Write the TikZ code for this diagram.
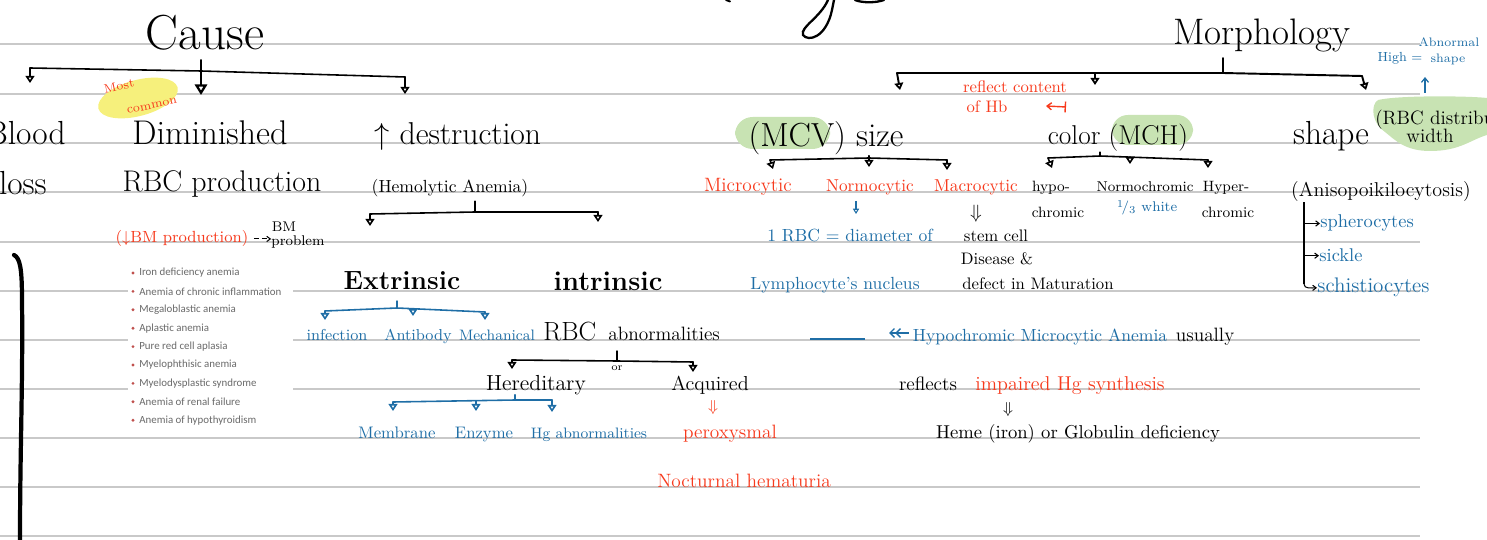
\documentclass[tikz,border=0pt]{standalone}
\usepackage{fontspec}
\usepackage{amsmath}
\newfontfamily\listfont{Carlito}
\usetikzlibrary{arrows.meta,positioning,calc}

\definecolor{notered}{HTML}{F73A1D}
\definecolor{noteblue}{HTML}{1F6EA6}
\definecolor{rulegray}{HTML}{C9C9C9}
\definecolor{listgray}{HTML}{6A6A6A}
\definecolor{bulletred}{HTML}{C0504D}
\definecolor{hlyellow}{HTML}{F6F07C}
\definecolor{hlgreen}{HTML}{C8E3B3}

\newcommand\fsz[1]{\fontsize{#1}{#1}\selectfont}

\tikzset{
  ruled/.style={draw=rulegray, line width=0.7pt},
  txt/.style={inner sep=0pt, anchor=base},
  bk/.style={txt, text=black},
  rd/.style={txt, text=notered},
  bl/.style={txt, text=noteblue},
  brace/.style={line width=0.9pt, line cap=round, line join=round},
  dn/.style={brace, -{Triangle[open, length=4pt, width=5pt]}},
  dnbig/.style={line width=1.3pt, -{Triangle[open, length=6pt, width=7pt]}},
  dnsmall/.style={line width=0.6pt, -{Triangle[open, length=3pt, width=3.5pt]}},
  pointer/.style={line width=0.6pt, -{Straight Barb[length=2pt, width=3pt]}},
  listitem/.style={inner sep=0pt, anchor=west, text=listgray, font=\listfont\fsz{6.2}},
}

\begin{document}
\begin{tikzpicture}[x=0.02cm, y=-0.02cm]
\useasboundingbox (0,0) rectangle (1487,540);
\clip (0,0) rectangle (1487,540);

% ruled paper
\foreach \ry in {44,94,143,192,242,291,340,389,438,487,536}
  \draw[ruled] (0,\ry) -- (1420,\ry);

% highlighter
\fill[hlyellow, rotate around={15:(138,98)}] (138,98) ellipse (41 and 18);
\fill[hlgreen, rounded corners=10pt] (735,117) rectangle (830,149);
\fill[hlgreen, rounded corners=9pt] (1112,115) rectangle (1193,145);
\fill[hlgreen] (1378,100) .. controls (1400,95) and (1470,96) .. (1487,98) -- (1487,135)
  .. controls (1470,140) and (1460,151) .. (1430,151) .. controls (1405,151) and (1395,140) .. (1385,132)
  .. controls (1372,124) and (1370,105) .. (1378,100) -- cycle;

% cut off title at the top
\draw[line width=1.3pt, line cap=round] (828,0) .. controls (820,18) and (800,27) .. (803,35)
  .. controls (808,42) and (826,38) .. (832,10) -- (834,0);
\draw[line width=1.3pt, line cap=round] (855,0) .. controls (862,3) and (876,3) .. (884,0);
\draw[line width=1.1pt, line cap=round] (726,0) -- (730,1.5);

%%% Cause
\node[bk, font=\fsz{28}] (cause) at (205,50) {Cause};
\node[bk, font=\fsz{19}, anchor=base east] (blood) at (66,145) {Blood};
\node[bk, font=\fsz{19}, anchor=base east] (loss) at (47,195) {loss};
\node[rd, font=\fsz{7}, anchor=center, rotate=12] (most) at (119,86) {Most};
\node[rd, font=\fsz{7}, anchor=center, rotate=12] (common) at (152,106) {common};
\node[bk, font=\fsz{19.5}] (dimin) at (210,145) {Diminished};
\node[bk, font=\fsz{17}] (rbcprod) at (222,192) {RBC production};
\node[bk, font=\fsz{18}] (destr) at (458,145) {$\uparrow$ destruction};
\node[bk, font=\fsz{10}] (hemol) at (450,193) {(Hemolytic Anemia)};

\coordinate (cl) at (30,68);
\coordinate (cm) at (201,71);
\coordinate (cr) at (405,77);
\draw[brace] (cl) -- (cm) -- (cr);
\draw[brace] ([yshift=-5pt]cause.south -| cm) -- (cm);
\draw[dn] (cl) -- ++(0,15);
\draw[dnbig] (cm) -- ++(0,24);
\draw[dn] (cr) -- ++(0,17);

\node[rd, font=\fsz{9.2}] (bmprod) at (182,243) {($\downarrow$BM production)};
\node[bk, font=\fsz{8}] (bmbm) at (284,232) {BM};
\node[bk, font=\fsz{8}] (bmprob) at (298,246) {problem};
\draw[pointer, dashed, dash pattern=on 3pt off 1.5pt] (bmprod.east) ++(3pt,0) -- (bmprob.west |- bmprod.east);

% list of the diminished production group
\fill[white] (128,262) rectangle (293,428);
\foreach \litem [count=\i from 0] in {Iron deficiency anemia, Anemia of chronic inflammation,
    Megaloblastic anemia, Aplastic anemia, Pure red cell aplasia, Myelophthisic anemia,
    Myelodysplastic syndrome, Anemia of renal failure, Anemia of hypothyroidism}{
  \fill[bulletred] (133,{273+18.4*\i}) circle (0.9pt);
  \node[listitem] (li\i) at (139,{273+18.4*\i}) {\litem};
}
\draw[line width=2.4pt, line cap=round] (14,255) .. controls (20,258) and (22,268) .. (22,300)
  .. controls (23,380) and (20,450) .. (20,540);

% hemolytic
\coordinate (hl) at (370,214);
\coordinate (hm) at (475,212);
\coordinate (hr) at (598,212);
\draw[brace] (hl) -- (hm) -- (hr);
\draw[brace] ([yshift=-2pt]hemol.south -| hm) -- (hm);
\draw[dn] (hl) -- ++(0,12);
\draw[dn] (hr) -- ++(0,10);

\node[bk, font=\fsz{15}\bfseries] (extr) at (402,290) {Extrinsic};
\node[bk, font=\fsz{15.5}\bfseries] (intr) at (608,291) {intrinsic};

\coordinate (el) at (325,311);
\coordinate (em) at (397,308);
\coordinate (emm) at (413,309);
\coordinate (er) at (485,312);
\draw[brace, noteblue] (el) -- (em) -- (er);
\draw[brace, noteblue] ([yshift=-6pt]extr.south -| em) -- (em);
\draw[dn, noteblue] (el) -- ++(0,9);
\draw[dn, noteblue] (emm) -- ++(0,7);
\draw[dn, noteblue] (er) -- ++(0,8);
\node[bl, font=\fsz{9}] (infect) at (337,340) {infection};
\node[bl, font=\fsz{9}] (antib) at (418,340) {Antibody};
\node[bl, font=\fsz{8.6}] (mech) at (497,340) {Mechanical};

\node[bk, font=\fsz{15}, anchor=base west] (rbc) at (543,340) {RBC};
\node[bk, font=\fsz{11}, anchor=base west] (abnorm) at (608,340) {abnormalities};
\coordinate (ol) at (512,360);
\coordinate (om) at (617,361);
\coordinate (orr) at (693,362);
\draw[brace] (ol) -- (om) -- (orr);
\draw[brace] ([yshift=-6pt]abnorm.south -| om) -- (om);
\draw[dn] (ol) -- ++(0,9);
\draw[dn] (orr) -- ++(0,10);
\node[bk, font=\fsz{6}, anchor=center] (ortxt) at (617,368) {or};
\node[bk, font=\fsz{12.4}] (hered) at (536,390) {Hereditary};
\node[bk, font=\fsz{11.5}] (acq) at (710,390) {Acquired};

\coordinate (hdl) at (393,402);
\coordinate (hdm) at (515,400);
\coordinate (hdmm) at (476,401);
\coordinate (hdr) at (552,400);
\draw[brace, noteblue] (hdl) -- (hdm) -- (hdr);
\draw[brace, noteblue] (hered.south -| hdm) -- (hdm);
\draw[dn, noteblue] (hdl) -- ++(0,9);
\draw[dn, noteblue] (hdmm) -- ++(0,10);
\draw[dn, noteblue] (hdr) -- ++(0,12);
\node[bl, font=\fsz{9.5}] (membr) at (397,438) {Membrane};
\node[bl, font=\fsz{9.5}] (enzy) at (484,438) {Enzyme};
\node[bl, font=\fsz{8.6}] (hgab) at (589,438) {Hg abnormalities};

\node[rd, font=\fsz{9}, anchor=center] (acqarr) at (713,408) {$\Downarrow$};
\node[rd, font=\fsz{11}] (parox) at (730,438) {peroxysmal};
\node[rd, font=\fsz{11}] (noct) at (744,487) {Nocturnal hematuria};

%%% Morphology
\node[bk, font=\fsz{21}] (morph) at (1262,45) {Morphology};
\coordinate (ml) at (897,73);
\coordinate (mm) at (1223,73);
\coordinate (mmm) at (1095,73);
\coordinate (mr) at (1362,76);
\draw[brace, line width=1.1pt] (ml) -- (mm) -- (mr);
\draw[brace, line width=1.1pt] ([yshift=-3pt]morph.south -| mm) -- (mm);
\draw[dn, line width=1.1pt] (ml) -- ++(3,17);
\draw[dn, line width=1.1pt] (mmm) -- ++(0,12);
\draw[dn, line width=1.1pt] (mr) -- ++(4,14);

\node[rd, font=\fsz{9.5}] (refl) at (1015,93) {reflect content};
\node[rd, font=\fsz{9.5}] (ofhb) at (987,113) {of Hb};
\coordinate (hbarr) at (1066,107);
\draw[notered, line width=0.8pt, {Straight Barb[length=2.5pt, width=4pt]}-|] ($(hbarr)+(-20,-1)$) -- (hbarr);

\node[bk, font=\fsz{19}] (mcv) at (826,147) {(MCV) size};
\node[bk, font=\fsz{15.5}] (mch) at (1118,145) {color (MCH)};
\node[bk, font=\fsz{19}] (shape) at (1331,145) {shape};
\node[bk, font=\fsz{11}, anchor=base west] (rdw) at (1375,125) {(RBC distribution};
\node[bk, font=\fsz{11}] (rdwb) at (1430,143) {width};
\node[bl, font=\fsz{7.5}] (high) at (1400,62) {High =};
\node[bl, font=\fsz{7}] (highab) at (1449,47) {Abnormal};
\node[bl, font=\fsz{7}] (highsh) at (1448,63) {shape};
\coordinate (hiup) at (1425,93);
\draw[noteblue, line width=0.7pt, -{Straight Barb[length=2.5pt, width=4pt]}] (hiup) -- ++(0,-16);

% size
\coordinate (sl) at (770,160);
\coordinate (sm) at (869,158);
\coordinate (sr) at (947,160);
\draw[brace] (sl) -- (sm) -- (sr);
\draw[brace] (mcv.south -| sm) -- (sm);
\draw[dn] (sl) -- ++(3,9);
\draw[dn] (sm) -- ++(0,9);
\draw[dn] (sr) -- ++(0,10);
\node[rd, font=\fsz{11}] (micro) at (748,192) {Microcytic};
\node[rd, font=\fsz{9.8}] (normo) at (870,192) {Normocytic};
\node[rd, font=\fsz{9.8}] (macro) at (976,192) {Macrocytic};
\coordinate (nrarr) at (856,201);
\draw[dnsmall, noteblue] (nrarr) -- ++(0,13);
\node[bl, font=\fsz{10}] (rbcdiam) at (850,242) {1 RBC = diameter of};
\node[bl, font=\fsz{10}] (lymph) at (835,290) {Lymphocyte's nucleus};
\node[bk, font=\fsz{11}, anchor=center] (macarr) at (976,214) {$\Downarrow$};
\node[bk, font=\fsz{9.5}] (stemc) at (996,242) {stem cell};
\node[bk, font=\fsz{9.5}] (dise) at (997,265) {Disease \&};
\node[bk, font=\fsz{9.5}] (defect) at (1038,290) {defect in Maturation};

% color
\coordinate (kl) at (1048,158);
\coordinate (km) at (1100,156);
\coordinate (kmm) at (1130,157);
\coordinate (kr) at (1208,160);
\draw[brace] (kl) -- (km) -- (kr);
\draw[brace] (mch.south -| km) -- (km);
\draw[dn] (kl) -- ++(4,10);
\draw[dn] (kmm) -- ++(0,7);
\draw[dn] (kr) -- ++(0,8);
\node[bk, font=\fsz{8.5}] (hypo) at (1051,192) {hypo-};
\node[bk, font=\fsz{8.5}] (hypoc) at (1058,218) {chromic};
\node[bk, font=\fsz{8.1}] (normoch) at (1145,192) {Normochromic};
\node[bl, font=\fsz{8}] (third) at (1147,212) {$^1\!/_3$ white};
\node[bk, font=\fsz{8.5}] (hyper) at (1226,192) {Hyper-};
\node[bk, font=\fsz{8.5}] (hyperc) at (1228,218) {chromic};

% shape
\node[bk, font=\fsz{11.4}] (aniso) at (1381,197) {(Anisopoikilocytosis)};
\node[bl, font=\fsz{10.5}, anchor=base west] (sphero) at (1320,228) {spherocytes};
\node[bl, font=\fsz{10.5}, anchor=base west] (sickle) at (1319,262) {sickle};
\node[bl, font=\fsz{12}, anchor=base west] (schist) at (1317,293) {schistiocytes};
\coordinate (vt) at (1304,284);
\draw[line width=0.7pt] (aniso.south -| vt) -- (vt);
\draw[pointer] (vt |- sphero.west) -- (sphero.west);
\draw[pointer] (vt |- sickle.west) -- (sickle.west);
\draw[pointer] (vt) to[out=-90, in=180] (schist.west);

% anemia note
\draw[noteblue, line width=0.8pt] (810,339) -- (865,339);
\coordinate (hmarr) at (909,333);
\draw[noteblue, line width=0.8pt, {Straight Barb[length=2.5pt, width=5pt]Straight Barb[length=2.5pt, width=5pt]}-] ($(hmarr)+(-20,0)$) -- (hmarr);
\node[bl, font=\fsz{10}] (hypomicro) at (1040,342) {Hypochromic Microcytic Anemia};
\node[bk, font=\fsz{11}] (usually) at (1205,342) {usually};
\node[bk, font=\fsz{11}] (reflects) at (928,390) {reflects};
\node[rd, font=\fsz{11.4}] (impaired) at (1070,390) {impaired Hg synthesis};
\node[bk, font=\fsz{9}, anchor=center] (impairr) at (1008,410) {$\Downarrow$};
\node[bk, font=\fsz{10.6}] (heme) at (1078,438) {Heme (iron) or Globulin deficiency};
\end{tikzpicture}
\end{document}
